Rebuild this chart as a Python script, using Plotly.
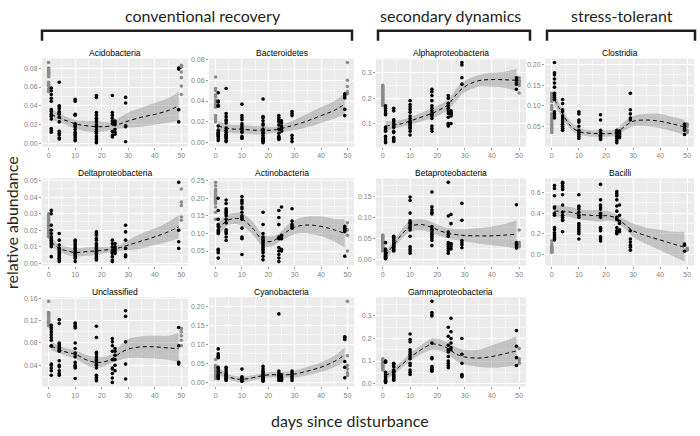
import plotly.graph_objects as go

"""Relative abundance of bacterial classes after disturbance, small multiples"""

# sampling days; 0 and 50 are the reference samples drawn in grey
DAYS = [0, 1, 4, 10, 18, 24, 25, 29, 49, 50]
GREY_DAYS = [0, 50]
FIT_DAYS = [1, 4, 7, 10, 14, 18, 21, 24, 27, 30, 35, 40, 45, 49]

# ---- Acidobacteria
acido_pts = [
    [0.086, 0.080, 0.078, 0.077, 0.076, 0.075, 0.074, 0.073, 0.072, 0.071, 0.065, 0.063, 0.061, 0.058, 0.056, 0.055],
    [0.059, 0.056, 0.052, 0.048, 0.045, 0.036, 0.034, 0.031, 0.029, 0.026, 0.016, 0.014, 0.012],
    [0.065, 0.040, 0.039, 0.037, 0.034, 0.033, 0.032, 0.031, 0.028, 0.023, 0.013, 0.011, 0.009, 0.006, 0.005],
    [0.047, 0.045, 0.031, 0.030, 0.021, 0.019, 0.018, 0.015, 0.012, 0.010, 0.008, 0.006, 0.004, 0.003],
    [0.051, 0.049, 0.033, 0.030, 0.027, 0.025, 0.023, 0.020, 0.018, 0.015, 0.013, 0.011, 0.008, 0.006, 0.004, 0.002, 0.001],
    [0.051, 0.033, 0.030, 0.027, 0.024, 0.021, 0.013, 0.009, 0.007],
    [0.024, 0.022, 0.020, 0.015, 0.012, 0.010],
    [0.049, 0.043, 0.019, 0.018, 0.002],
    [0.080, 0.079, 0.036, 0.023],
    [0.083, 0.081, 0.076, 0.070, 0.061, 0.052],
]
acido_fit = [0.031, 0.027, 0.024, 0.021, 0.019, 0.018, 0.018, 0.019, 0.021, 0.024, 0.028, 0.031, 0.035, 0.040]
acido_lo = [0.025, 0.023, 0.019, 0.016, 0.013, 0.012, 0.013, 0.015, 0.016, 0.017, 0.018, 0.020, 0.022, 0.024]
acido_hi = [0.037, 0.032, 0.028, 0.025, 0.024, 0.024, 0.023, 0.023, 0.028, 0.033, 0.038, 0.043, 0.048, 0.055]

# ---- Bacteroidetes
bactero_pts = [
    [0.063, 0.052, 0.050, 0.046, 0.044, 0.041, 0.039, 0.037, 0.035, 0.034, 0.026, 0.024, 0.022, 0.020],
    [0.048, 0.040, 0.039, 0.036, 0.035, 0.016, 0.012, 0.010, 0.009, 0.008, 0.007, 0.006, 0.004, 0.002],
    [0.052, 0.028, 0.025, 0.022, 0.021, 0.019, 0.014, 0.012, 0.010, 0.008, 0.007, 0.006, 0.005, 0.004, 0.002, 0.001],
    [0.037, 0.026, 0.024, 0.022, 0.018, 0.016, 0.014, 0.013, 0.011, 0.010, 0.006, 0.005, 0.004],
    [0.042, 0.025, 0.024, 0.021, 0.018, 0.017, 0.013, 0.012, 0.010, 0.009, 0.007, 0.005, 0.004, 0.003, 0.002, 0.001, 0.000],
    [0.026, 0.024, 0.022, 0.020, 0.017, 0.013, 0.009, 0.006, 0.005, 0.004, 0.003],
    [0.021, 0.019, 0.016, 0.014, 0.012, 0.011],
    [0.030, 0.028, 0.026, 0.007, 0.004, 0.001],
    [0.047, 0.045, 0.043, 0.032, 0.026],
    [0.077, 0.060, 0.054, 0.049, 0.047],
]
bactero_fit = [0.016, 0.014, 0.013, 0.013, 0.012, 0.012, 0.012, 0.013, 0.015, 0.017, 0.021, 0.026, 0.031, 0.037]
bactero_lo = [0.011, 0.010, 0.009, 0.009, 0.008, 0.008, 0.009, 0.010, 0.011, 0.012, 0.015, 0.019, 0.023, 0.027]
bactero_hi = [0.021, 0.018, 0.017, 0.017, 0.016, 0.016, 0.015, 0.016, 0.019, 0.022, 0.028, 0.034, 0.040, 0.047]

# ---- Alphaproteobacteria
alpha_pts = [
    [0.25, 0.245, 0.24, 0.235, 0.23, 0.225, 0.22, 0.215, 0.21, 0.205, 0.20, 0.195, 0.19, 0.185, 0.18, 0.175, 0.17],
    [0.17, 0.16, 0.15, 0.14, 0.135, 0.085, 0.08, 0.075, 0.07, 0.05, 0.04, 0.03, 0.025],
    [0.16, 0.15, 0.115, 0.11, 0.10, 0.09, 0.085, 0.07, 0.065, 0.045, 0.04, 0.035, 0.03],
    [0.19, 0.175, 0.165, 0.155, 0.145, 0.13, 0.12, 0.11, 0.105, 0.10, 0.095, 0.09, 0.085, 0.08, 0.07, 0.055],
    [0.235, 0.225, 0.21, 0.19, 0.17, 0.16, 0.15, 0.14, 0.135, 0.13, 0.12, 0.09, 0.08, 0.07],
    [0.21, 0.20, 0.18, 0.17, 0.16, 0.15, 0.14, 0.125, 0.10, 0.095, 0.09],
    [0.15, 0.145, 0.14, 0.135, 0.13, 0.10],
    [0.34, 0.33, 0.28, 0.255],
    [0.28, 0.27, 0.26, 0.255, 0.235],
    [0.28, 0.27, 0.265, 0.26, 0.25, 0.22],
]
alpha_fit = [0.09, 0.095, 0.10, 0.11, 0.125, 0.14, 0.155, 0.175, 0.215, 0.245, 0.268, 0.273, 0.272, 0.27]
alpha_lo = [0.07, 0.08, 0.088, 0.095, 0.108, 0.12, 0.135, 0.155, 0.19, 0.222, 0.245, 0.245, 0.24, 0.225]
alpha_hi = [0.11, 0.11, 0.115, 0.125, 0.142, 0.16, 0.175, 0.195, 0.238, 0.268, 0.29, 0.30, 0.305, 0.315]

# ---- Clostridia
clost_pts = [
    [0.13, 0.125, 0.12, 0.115, 0.11, 0.10, 0.095, 0.09, 0.08, 0.075, 0.07, 0.065, 0.06, 0.055, 0.05, 0.045, 0.04, 0.035],
    [0.205, 0.18, 0.175, 0.165, 0.155, 0.145, 0.13, 0.125, 0.12, 0.115, 0.085, 0.08, 0.075, 0.07],
    [0.115, 0.105, 0.09, 0.085, 0.075, 0.07, 0.065, 0.06, 0.055, 0.05, 0.045, 0.04],
    [0.085, 0.08, 0.065, 0.06, 0.05, 0.04, 0.035, 0.03, 0.025, 0.02],
    [0.078, 0.065, 0.04, 0.035, 0.03, 0.028, 0.025, 0.022, 0.02, 0.018],
    [0.04, 0.035, 0.03, 0.025, 0.02, 0.015, 0.01],
    [0.038, 0.033, 0.03, 0.027, 0.025, 0.022],
    [0.13, 0.09, 0.08, 0.07, 0.065],
    [0.055, 0.05, 0.045, 0.04, 0.03],
    [0.055, 0.05, 0.04, 0.035],
]
clost_fit = [0.115, 0.08, 0.05, 0.037, 0.033, 0.032, 0.032, 0.035, 0.05, 0.062, 0.065, 0.062, 0.055, 0.048]
clost_lo = [0.10, 0.07, 0.042, 0.03, 0.025, 0.024, 0.025, 0.027, 0.04, 0.05, 0.05, 0.045, 0.037, 0.03]
clost_hi = [0.13, 0.09, 0.06, 0.047, 0.04, 0.04, 0.04, 0.044, 0.062, 0.075, 0.08, 0.08, 0.072, 0.066]

# ---- Deltaproteobacteria
delta_pts = [
    [0.030, 0.029, 0.028, 0.027, 0.026, 0.025, 0.024, 0.023, 0.022, 0.021, 0.020, 0.019, 0.018, 0.017, 0.016],
    [0.032, 0.030, 0.023, 0.020, 0.018, 0.016, 0.015, 0.014, 0.013, 0.012, 0.011, 0.010, 0.004],
    [0.018, 0.014, 0.011, 0.009, 0.008, 0.007, 0.006, 0.005, 0.004, 0.003, 0.002, 0.001],
    [0.014, 0.013, 0.012, 0.011, 0.010, 0.009, 0.008, 0.007, 0.006, 0.005, 0.004, 0.003, 0.001],
    [0.019, 0.018, 0.017, 0.015, 0.014, 0.012, 0.011, 0.010, 0.009, 0.008, 0.007, 0.006, 0.005, 0.004, 0.003, 0.002],
    [0.014, 0.012, 0.010, 0.008, 0.007, 0.006, 0.004, 0.002, 0.001],
    [0.012, 0.010, 0.009, 0.008, 0.007, 0.006],
    [0.023, 0.019, 0.014, 0.009, 0.005, 0.004],
    [0.049, 0.020, 0.013, 0.009],
    [0.045, 0.037, 0.035, 0.028, 0.026],
]
delta_fit = [0.013, 0.009, 0.0075, 0.0065, 0.007, 0.0075, 0.008, 0.0085, 0.0095, 0.011, 0.0135, 0.016, 0.019, 0.022]
delta_lo = [0.010, 0.007, 0.005, 0.004, 0.0045, 0.005, 0.006, 0.007, 0.0075, 0.008, 0.009, 0.011, 0.013, 0.015]
delta_hi = [0.016, 0.011, 0.010, 0.009, 0.0095, 0.010, 0.010, 0.010, 0.0115, 0.014, 0.018, 0.021, 0.025, 0.029]

# ---- Actinobacteria
actino_pts = [
    [0.245, 0.235, 0.225, 0.22, 0.215, 0.21, 0.205, 0.20, 0.195, 0.19, 0.185, 0.175, 0.16, 0.14],
    [0.20, 0.165, 0.14, 0.125, 0.12, 0.11, 0.105, 0.10, 0.055, 0.05, 0.045, 0.03],
    [0.195, 0.185, 0.17, 0.165, 0.16, 0.155, 0.15, 0.14, 0.13, 0.11, 0.105, 0.10, 0.09, 0.08],
    [0.205, 0.195, 0.19, 0.185, 0.175, 0.17, 0.16, 0.15, 0.145, 0.14, 0.115, 0.09, 0.085, 0.04],
    [0.16, 0.125, 0.10, 0.09, 0.085, 0.08, 0.075, 0.07, 0.065, 0.06, 0.055, 0.05, 0.045, 0.035, 0.025],
    [0.165, 0.145, 0.125, 0.09, 0.085, 0.06, 0.05, 0.04, 0.03, 0.02],
    [0.175, 0.095, 0.09, 0.085, 0.055, 0.05],
    [0.17, 0.135, 0.125, 0.12, 0.115],
    [0.12, 0.115, 0.11, 0.105, 0.035],
    [0.13, 0.11, 0.095, 0.05],
]
actino_fit = [0.11, 0.135, 0.142, 0.14, 0.115, 0.08, 0.077, 0.088, 0.105, 0.118, 0.124, 0.12, 0.11, 0.10]
actino_lo = [0.09, 0.12, 0.127, 0.122, 0.097, 0.063, 0.063, 0.075, 0.088, 0.098, 0.10, 0.092, 0.077, 0.06]
actino_hi = [0.13, 0.15, 0.158, 0.158, 0.133, 0.097, 0.092, 0.10, 0.122, 0.138, 0.148, 0.148, 0.142, 0.14]

# ---- Betaproteobacteria
beta_pts = [
    [0.058, 0.055, 0.052, 0.05, 0.047, 0.045, 0.042, 0.04, 0.037, 0.035, 0.032, 0.03, 0.027, 0.025, 0.022, 0.02],
    [0.04, 0.025, 0.022, 0.02, 0.015, 0.012, 0.01, 0.008, 0.006, 0.005, 0.003, 0.002],
    [0.055, 0.052, 0.05, 0.045, 0.04, 0.037, 0.035, 0.032, 0.03, 0.028, 0.025, 0.022, 0.02],
    [0.148, 0.14, 0.11, 0.092, 0.088, 0.085, 0.08, 0.075, 0.07, 0.055, 0.03, 0.025, 0.02, 0.015],
    [0.16, 0.125, 0.118, 0.112, 0.108, 0.078, 0.072, 0.068, 0.063, 0.06, 0.055, 0.05, 0.045, 0.033],
    [0.183, 0.103, 0.065, 0.06, 0.055, 0.04, 0.035, 0.03, 0.025, 0.02, 0.015],
    [0.107, 0.085, 0.038, 0.035, 0.03, 0.025],
    [0.133, 0.093, 0.045, 0.04, 0.035, 0.028],
    [0.13, 0.04, 0.037, 0.035, 0.03, 0.027],
    [0.07, 0.04, 0.035, 0.032, 0.03],
]
beta_fit = [0.01, 0.035, 0.06, 0.078, 0.083, 0.076, 0.068, 0.062, 0.059, 0.057, 0.056, 0.056, 0.058, 0.06]
beta_lo = [-0.005, 0.027, 0.05, 0.066, 0.07, 0.063, 0.056, 0.05, 0.046, 0.043, 0.038, 0.034, 0.03, 0.027]
beta_hi = [0.02, 0.043, 0.072, 0.092, 0.096, 0.089, 0.08, 0.074, 0.072, 0.072, 0.074, 0.078, 0.085, 0.093]

# ---- Bacilli
bacilli_pts = [
    [0.13, 0.10, 0.08, 0.07, 0.06, 0.05, 0.045, 0.04, 0.035, 0.03, 0.025, 0.02],
    [0.67, 0.64, 0.57, 0.46, 0.45, 0.40, 0.38, 0.26, 0.24, 0.21, 0.19, 0.17, 0.15, 0.14],
    [0.70, 0.69, 0.67, 0.65, 0.63, 0.58, 0.48, 0.41, 0.38, 0.36, 0.34, 0.33, 0.22],
    [0.58, 0.47, 0.46, 0.44, 0.41, 0.38, 0.36, 0.30, 0.28, 0.26, 0.24, 0.22, 0.20, 0.15],
    [0.68, 0.53, 0.48, 0.46, 0.44, 0.40, 0.38, 0.36, 0.26, 0.25, 0.23, 0.17, 0.15, 0.13],
    [0.61, 0.59, 0.57, 0.53, 0.47, 0.42, 0.36, 0.34, 0.26, 0.23, 0.21, 0.20],
    [0.48, 0.38, 0.32, 0.30, 0.24, 0.22],
    [0.23, 0.15, 0.12, 0.09, 0.07, 0.04],
    [0.10, 0.09, 0.03],
    [0.06, 0.05, 0.04],
]
bacilli_fit = [0.42, 0.42, 0.41, 0.39, 0.38, 0.375, 0.375, 0.35, 0.29, 0.23, 0.18, 0.14, 0.10, 0.07]
bacilli_lo = [0.36, 0.37, 0.36, 0.34, 0.33, 0.32, 0.33, 0.31, 0.25, 0.17, 0.10, 0.04, -0.02, -0.07]
bacilli_hi = [0.48, 0.47, 0.46, 0.44, 0.43, 0.43, 0.42, 0.39, 0.34, 0.30, 0.26, 0.24, 0.22, 0.22]

# ---- Unclassified
uncl_pts = [
    [0.155, 0.135, 0.133, 0.131, 0.129, 0.127, 0.125, 0.123, 0.121, 0.119, 0.117, 0.115, 0.113, 0.111],
    [0.112, 0.108, 0.105, 0.10, 0.095, 0.09, 0.085, 0.075, 0.074, 0.042, 0.04, 0.035, 0.03, 0.022],
    [0.122, 0.115, 0.08, 0.078, 0.075, 0.072, 0.07, 0.067, 0.065, 0.048, 0.04, 0.037, 0.03, 0.025, 0.022],
    [0.116, 0.114, 0.11, 0.107, 0.08, 0.07, 0.062, 0.06, 0.055, 0.045, 0.04, 0.037, 0.035, 0.016],
    [0.11, 0.09, 0.063, 0.06, 0.055, 0.05, 0.048, 0.045, 0.042, 0.04, 0.035, 0.022, 0.018, 0.015, 0.012],
    [0.088, 0.082, 0.075, 0.065, 0.05, 0.035, 0.033, 0.025, 0.017, 0.009],
    [0.07, 0.065, 0.058, 0.05, 0.04, 0.03],
    [0.138, 0.128, 0.082, 0.042, 0.015],
    [0.108, 0.075, 0.045, 0.042],
    [0.106, 0.10, 0.093, 0.085, 0.075],
]
uncl_fit = [0.074, 0.068, 0.063, 0.06, 0.05, 0.045, 0.046, 0.052, 0.062, 0.069, 0.073, 0.073, 0.071, 0.07]
uncl_lo = [0.066, 0.062, 0.056, 0.052, 0.041, 0.035, 0.038, 0.045, 0.05, 0.053, 0.053, 0.052, 0.05, 0.045]
uncl_hi = [0.082, 0.075, 0.07, 0.067, 0.059, 0.055, 0.055, 0.06, 0.076, 0.087, 0.092, 0.093, 0.093, 0.098]

# ---- Cyanobacteria
cyano_pts = [
    [0.06, 0.045, 0.04, 0.035, 0.03, 0.025, 0.02, 0.015, 0.012, 0.01],
    [0.088, 0.075, 0.07, 0.067, 0.065, 0.04, 0.035, 0.03, 0.025, 0.02, 0.018, 0.015, 0.012, 0.01],
    [0.04, 0.035, 0.03, 0.025, 0.02, 0.018, 0.015, 0.012, 0.01, 0.008, 0.005],
    [0.035, 0.015, 0.012, 0.01, 0.008, 0.006, 0.004, 0.003],
    [0.042, 0.035, 0.03, 0.028, 0.025, 0.02, 0.018, 0.015, 0.012, 0.01, 0.008, 0.005, 0.003],
    [0.18, 0.03, 0.025, 0.02, 0.018, 0.015, 0.01, 0.005],
    [0.02, 0.015, 0.012, 0.01, 0.008, 0.005],
    [0.03, 0.025, 0.02, 0.015, 0.01, 0.005],
    [0.12, 0.117, 0.113, 0.055, 0.04, 0.012],
    [0.213, 0.07, 0.045, 0.035, 0.025, 0.018],
]
cyano_fit = [0.03, 0.018, 0.01, 0.008, 0.012, 0.018, 0.02, 0.02, 0.02, 0.022, 0.03, 0.04, 0.055, 0.072]
cyano_lo = [0.02, 0.012, 0.003, 0.0, 0.005, 0.011, 0.013, 0.013, 0.012, 0.013, 0.019, 0.028, 0.04, 0.052]
cyano_hi = [0.04, 0.025, 0.017, 0.015, 0.019, 0.025, 0.027, 0.027, 0.028, 0.031, 0.041, 0.052, 0.07, 0.092]

# ---- Gammaproteobacteria
gamma_pts = [
    [0.11, 0.105, 0.10, 0.095, 0.09, 0.085, 0.08, 0.075, 0.07, 0.065, 0.06],
    [0.10, 0.098, 0.095, 0.05, 0.04, 0.03, 0.025, 0.02, 0.015, 0.01, 0.005],
    [0.09, 0.085, 0.075, 0.06, 0.055, 0.05, 0.04, 0.035, 0.03, 0.025, 0.02, 0.015],
    [0.22, 0.195, 0.185, 0.15, 0.14, 0.13, 0.12, 0.11, 0.09, 0.08, 0.06, 0.05, 0.04],
    [0.365, 0.315, 0.305, 0.30, 0.18, 0.115, 0.11, 0.075, 0.07, 0.065, 0.06, 0.055],
    [0.25, 0.21, 0.17, 0.15, 0.14, 0.12, 0.10, 0.09, 0.08, 0.07],
    [0.29, 0.23, 0.20, 0.18, 0.16, 0.15],
    [0.20, 0.13, 0.09, 0.04, 0.035, 0.03],
    [0.235, 0.165, 0.115, 0.08],
    [0.155, 0.11, 0.10, 0.09],
]
gamma_fit = [0.035, 0.055, 0.085, 0.115, 0.15, 0.175, 0.17, 0.155, 0.13, 0.118, 0.113, 0.12, 0.133, 0.145]
gamma_lo = [0.02, 0.04, 0.07, 0.10, 0.13, 0.15, 0.145, 0.13, 0.10, 0.085, 0.075, 0.07, 0.075, 0.08]
gamma_hi = [0.05, 0.07, 0.10, 0.135, 0.17, 0.20, 0.195, 0.18, 0.16, 0.15, 0.15, 0.17, 0.19, 0.21]

# panel order, row by row (row 3 has three panels)
TAXA = ["Acidobacteria", "Bacteroidetes", "Alphaproteobacteria", "Clostridia",
        "Deltaproteobacteria", "Actinobacteria", "Betaproteobacteria", "Bacilli",
        "Unclassified", "Cyanobacteria", "Gammaproteobacteria"]
Y_DTICK = [0.02, 0.02, 0.1, 0.05, 0.01, 0.05, 0.05, 0.2, 0.04, 0.05, 0.1]
Y_FMT = [".2f", ".2f", ".1f", ".2f", ".2f", ".2f", ".2f", ".1f", ".2f", ".2f", ".1f"]

GROUPS = ["conventional recovery", "secondary dynamics", "stress-tolerant"]

W, H = 700, 436
COL_PX = [(42, 188), (209, 354), (376, 526), (545, 694)]
ROW_PX = [(56, 145), (177, 265), (297, 387)]
GROUP_PX = [(42, 352), (378, 530), (547, 695)]
GROUP_TEXT_X = [203, 450, 622]

BG = "#EBEBEB"
BAND = "rgba(153,153,153,0.5)"
GREY = "#8c8c8c"
TICKFONT = dict(family="Liberation Sans, Arial", size=7, color="#7f7f7f")
HEADFONT = dict(family="Lato, Open Sans", size=16, color="#231F20")

panel_data = [
    (acido_pts, acido_fit, acido_lo, acido_hi),
    (bactero_pts, bactero_fit, bactero_lo, bactero_hi),
    (alpha_pts, alpha_fit, alpha_lo, alpha_hi),
    (clost_pts, clost_fit, clost_lo, clost_hi),
    (delta_pts, delta_fit, delta_lo, delta_hi),
    (actino_pts, actino_fit, actino_lo, actino_hi),
    (beta_pts, beta_fit, beta_lo, beta_hi),
    (bacilli_pts, bacilli_fit, bacilli_lo, bacilli_hi),
    (uncl_pts, uncl_fit, uncl_lo, uncl_hi),
    (cyano_pts, cyano_fit, cyano_lo, cyano_hi),
    (gamma_pts, gamma_fit, gamma_lo, gamma_hi),
]

fig = go.Figure()
layout = {}
annotations = []

for i, (name, (pts, fit, lo, hi)) in enumerate(zip(TAXA, panel_data)):
    k = i + 1
    row, col = divmod(i, 4)
    xa, ya = f"x{k}", f"y{k}"
    common = dict(xaxis=xa, yaxis=ya, showlegend=False, hoverinfo="skip")

    # confidence band of the smooth
    fig.add_trace(go.Scatter(x=FIT_DAYS, y=lo, mode="lines",
                             line=dict(width=0, shape="spline"), **common))
    fig.add_trace(go.Scatter(x=FIT_DAYS, y=hi, mode="lines", fill="tonexty",
                             fillcolor=BAND, line=dict(width=0, shape="spline"),
                             **common))

    # points: reference days in grey, the rest black
    for grey in (True, False):
        xs, ys = [], []
        for day, vals in zip(DAYS, pts):
            if (day in GREY_DAYS) == grey:
                xs += [day] * len(vals)
                ys += vals
        fig.add_trace(go.Scatter(x=xs, y=ys, mode="markers",
                                 marker=dict(size=3.6, color=GREY if grey else "black"),
                                 **common))

    # dashed smooth
    fig.add_trace(go.Scatter(x=FIT_DAYS, y=fit, mode="lines",
                             line=dict(color="black", width=1, dash="4px,3px",
                                       shape="spline"), **common))

    allv = [v for vals in pts for v in vals] + lo + hi
    vmin, vmax = min(allv), max(allv)
    pad = 0.05 * (vmax - vmin)

    x0, x1 = COL_PX[col]
    ytop, ybot = ROW_PX[row]
    axis_style = dict(showgrid=True, gridcolor="white", gridwidth=1, zeroline=False,
                      showline=False, ticks="outside", ticklen=2, tickwidth=0.6,
                      tickcolor="#9a9a9a", tickfont=TICKFONT)
    layout["xaxis" if k == 1 else f"xaxis{k}"] = dict(
        domain=[x0 / W, x1 / W], anchor=ya, range=[-2.5, 52.5],
        tick0=0, dtick=10,
        minor=dict(dtick=5, showgrid=True, gridcolor="#F5F5F5", gridwidth=0.5),
        **axis_style)
    layout["yaxis" if k == 1 else f"yaxis{k}"] = dict(
        domain=[1 - ybot / H, 1 - ytop / H], anchor=xa,
        range=[vmin - pad, vmax + pad], tick0=0, dtick=Y_DTICK[i],
        tickformat=Y_FMT[i],
        minor=dict(dtick=Y_DTICK[i] / 2, showgrid=True, gridcolor="#F5F5F5", gridwidth=0.5),
        **axis_style)

    annotations.append(dict(text=name, x=(x0 + x1) / 2 / W, y=1 - ytop / H,
                            xref="paper", yref="paper", xanchor="center",
                            yanchor="bottom", yshift=-2, showarrow=False,
                            font=dict(family="Liberation Sans, Arial", size=8.5,
                                      color="black")))

# group headers with brackets
shapes = []
for label, (gx0, gx1), tx in zip(GROUPS, GROUP_PX, GROUP_TEXT_X):
    annotations.append(dict(text=label, x=tx / W, y=1 - 13 / H, xref="paper",
                            yref="paper", xanchor="center", yanchor="middle",
                            showarrow=False, font=HEADFONT))
    path = (f"M {gx0 / W},{1 - 38 / H} L {gx0 / W},{1 - 28 / H} "
            f"L {gx1 / W},{1 - 28 / H} L {gx1 / W},{1 - 38 / H}")
    shapes.append(dict(type="path", path=path, xref="paper", yref="paper",
                       line=dict(color="#231F20", width=2.5)))

annotations.append(dict(text="relative abundance", x=12 / W, y=1 - 222 / H,
                        xref="paper", yref="paper", textangle=-90,
                        xanchor="center", yanchor="middle", showarrow=False,
                        font=HEADFONT))
annotations.append(dict(text="days since disturbance", x=350 / W, y=1 - 421 / H,
                        xref="paper", yref="paper", xanchor="center",
                        yanchor="middle", showarrow=False, font=HEADFONT))

fig.update_layout(width=W, height=H, margin=dict(l=0, r=0, t=0, b=0),
                  paper_bgcolor="white", plot_bgcolor=BG,
                  annotations=annotations, shapes=shapes, **layout)

# drop the browser's default body margin so the figure sits at the page corner
fig.write_html("out.html", config={"displayModeBar": False},
               post_script="document.body.style.margin='0';"
                           "document.body.style.overflow='hidden';")
